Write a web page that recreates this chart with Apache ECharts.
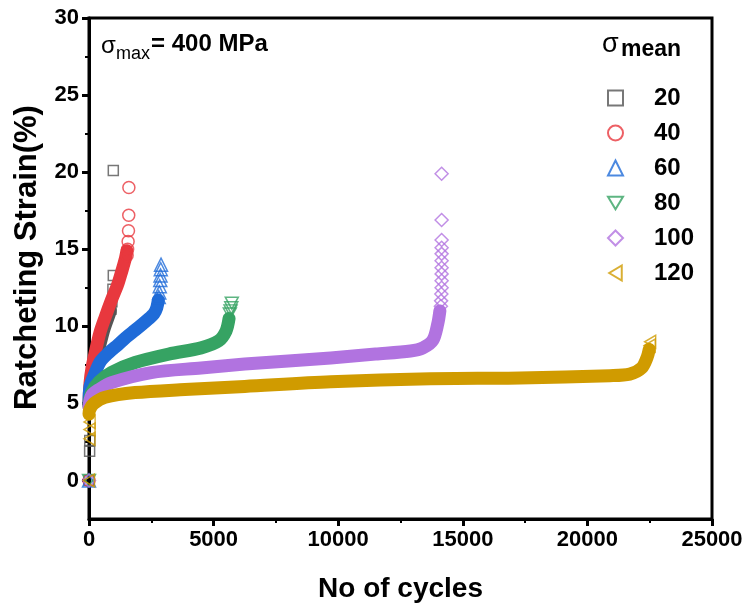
<!DOCTYPE html>
<html><head><meta charset="utf-8">
<script src="https://cdn.jsdelivr.net/npm/echarts@6/dist/echarts.min.js"></script>
<style>html,body{margin:0;padding:0;background:#fff}#c{width:748px;height:608px}</style>
</head><body><div id="c"></div>
<script>
// ---- data ----
const seriesNames = ['20', '40', '60', '80', '100', '120'];
const colors = ['#555555', '#e8383e', '#1f6bd8', '#36a363', '#b173e0', '#d09b00'];

// dense part of each curve (overlapping markers form a band)
const band20 = [[0, 4.8], [60, 6.0], [150, 7.0], [300, 8.0], [450, 8.9], [600, 9.8], [750, 10.5], [860, 11.0]];
const band40 = [[0, 5.0], [40, 6.3], [120, 7.3], [250, 8.3], [440, 9.6], [650, 10.6], [900, 11.7], [1150, 12.7], [1320, 13.6], [1460, 14.4], [1520, 14.9]];
const band60 = [[0, 5.0], [40, 6.1], [200, 6.8], [450, 7.7], [800, 8.3], [1160, 8.8], [1500, 9.3], [1850, 9.75], [2150, 10.15], [2400, 10.5], [2600, 10.8], [2720, 11.2], [2780, 11.7]];
const band80 = [[0, 4.9], [100, 5.7], [400, 6.4], [900, 7.0], [1850, 7.65], [3200, 8.2], [4500, 8.6], [5200, 9.05], [5500, 9.7], [5620, 10.5]];
const band100 = [[0, 4.8], [100, 5.5], [400, 5.9], [900, 6.35], [2500, 7.0], [4500, 7.3], [6250, 7.55], [8000, 7.75], [9700, 7.95], [11500, 8.2], [12900, 8.4], [13400, 8.6], [13800, 9.1], [14000, 10.2], [14080, 11.0]];
const band120 = [[0, 4.3], [30, 4.6], [200, 5.0], [650, 5.4], [1850, 5.7], [3850, 5.9], [6250, 6.1], [9700, 6.4], [13700, 6.6], [17300, 6.65], [20900, 6.8], [21700, 6.9], [22180, 7.3], [22400, 8.0], [22480, 8.5]];

// sparse individual markers (start points and final points)
const tail20 = [[0, 0], [25, 1.9], [30, 2.6], [880, 11.1], [920, 11.6], [960, 12.4], [975, 13.3], [975, 20.1]];
const tail40 = [[0, 0], [1530, 14.6], [1550, 15.0], [1570, 15.5], [1585, 16.2], [1595, 17.2], [1600, 19.0]];
const tail60 = [[0, 0], [2800, 11.9], [2820, 12.2], [2840, 12.6], [2860, 13.0], [2870, 13.3], [2880, 13.7], [2890, 14.0]];
const tail80 = [[0, 0], [5650, 10.8], [5680, 11.0], [5710, 11.2], [5730, 11.5]];
const tail100 = [[0, 0], [14120, 11.3], [14130, 11.65], [14140, 12.1], [14150, 12.5], [14150, 12.95], [14150, 13.4], [14150, 13.8], [14150, 14.25], [14150, 14.7], [14150, 15.1], [14150, 15.6], [14150, 16.9], [14150, 19.9]];
const tail120 = [[0, 0], [20, 2.7], [22, 3.3], [25, 3.8], [22500, 8.75], [22520, 9.0]];

const xTicks = [0, 5000, 10000, 15000, 20000, 25000];
const yTicks = [0, 5, 10, 15, 20, 25, 30];
const yMinorTicks = [2.5, 7.5, 12.5, 17.5, 22.5, 27.5];

// ---- chart ----
const bands = [band20, band40, band60, band80, band100, band120];
const tails = [tail20, tail40, tail60, tail80, tail100, tail120];
const symbols = ['rect', 'circle', 'triangle', 'path://M0,0L12,0L6,10Z', 'diamond', 'path://M10,0L10,12L0,6Z'];
const symSizes = [10, 12, 13, [13, 12], 13, [11, 13]];
const FONT = '"Liberation Sans", Arial, sans-serif';

const series = [];
seriesNames.forEach((n, i) => {
  series.push({
    name: n + ' band', type: 'line', data: bands[i], smooth: 0.3,
    symbol: 'none', silent: true, z: 2 + i * 2,
    lineStyle: { color: colors[i], width: 13, cap: 'round', join: 'round' }
  });
  series.push({
    name: n, type: 'scatter', data: tails[i], z: 3 + i * 2,
    symbol: symbols[i], symbolSize: symSizes[i],
    itemStyle: { color: 'rgba(255,255,255,0)', borderColor: colors[i], borderWidth: 1.5 }
  });
});

const chart = echarts.init(document.getElementById('c'), null, { renderer: 'canvas' });
chart.setOption({
  animation: false,
  backgroundColor: '#fff',
  grid: { left: 89, right: 36, top: 18, bottom: 89, show: true, borderColor: '#000', borderWidth: 3, backgroundColor: 'transparent' },
  xAxis: {
    type: 'value', min: 0, max: 25000, interval: 5000,
    name: 'No of cycles', nameLocation: 'middle', nameGap: 56,
    nameTextStyle: { fontFamily: FONT, fontWeight: 'bold', fontSize: 28, color: '#000' },
    axisLine: { show: true, onZero: false, lineStyle: { color: '#000', width: 3 } },
    axisTick: { show: true, length: 7, lineStyle: { color: '#000', width: 3 } },
    minorTick: { show: true, splitNumber: 2, length: 4, lineStyle: { color: '#000', width: 2 } },
    splitLine: { show: false },
    axisLabel: { fontFamily: FONT, fontWeight: 'bold', fontSize: 22, color: '#000', margin: 10, formatter: v => String(v) }
  },
  yAxis: [{
    type: 'value', min: -2.5, max: 30,
    name: 'Ratcheting Strain(%)', nameLocation: 'middle', nameGap: 46, nameRotate: 90,
    nameTextStyle: { fontFamily: FONT, fontWeight: 'bold', fontSize: 31, color: '#000', padding: [0, 0, 0, 22] },
    axisLine: { show: true, onZero: false, lineStyle: { color: '#000', width: 3 } },
    axisTick: { show: true, length: 7, customValues: yTicks, lineStyle: { color: '#000', width: 3 } },
    splitLine: { show: false },
    axisLabel: { customValues: yTicks, fontFamily: FONT, fontWeight: 'bold', fontSize: 22, color: '#000', margin: 10 }
  }, {
    type: 'value', min: -2.5, max: 30, position: 'left',
    axisLine: { show: false, onZero: false },
    axisTick: { show: true, length: 4, customValues: yMinorTicks, lineStyle: { color: '#000', width: 2 } },
    axisLabel: { show: false, customValues: yMinorTicks },
    splitLine: { show: false }
  }],
  legend: {
    data: seriesNames, orient: 'vertical', left: 602, top: 81, selectedMode: false,
    itemWidth: 15, itemHeight: 15, itemGap: 11,
    textStyle: { fontFamily: FONT, fontWeight: 'bold', fontSize: 24, color: '#000', padding: [0, 0, 0, 26] }
  },
  graphic: [
    { type: 'text', left: 101, top: 34, style: { text: 'σ', font: '24px ' + FONT, fill: '#000' } },
    { type: 'text', left: 116, top: 45, style: { text: 'max', font: '18px ' + FONT, fill: '#000' } },
    { type: 'text', left: 151, top: 32, style: { text: '= 400 MPa', font: 'bold 24px ' + FONT, fill: '#000' } },
    { type: 'text', left: 602, top: 31, style: { text: 'σ', font: '27px ' + FONT, fill: '#000' } },
    { type: 'text', left: 621, top: 38, style: { text: 'mean', font: 'bold 23px ' + FONT, fill: '#000' } }
  ],
  series: series
});
</script>
</body></html>
